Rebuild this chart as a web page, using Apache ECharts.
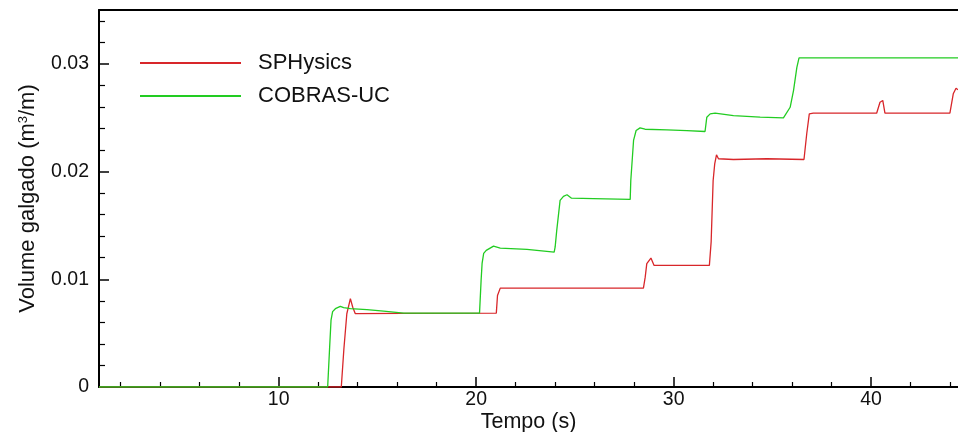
<!DOCTYPE html>
<html><head><meta charset="utf-8">
<script src="https://cdn.jsdelivr.net/npm/echarts@6/dist/echarts.min.js"></script>
<style>html,body{margin:0;padding:0;background:#fff}#c{width:958px;height:432px}</style>
</head><body><div id="c"></div>
<script>
// Data
const seriesNames = ['SPHysics', 'COBRAS-UC'];
const sphysicsX = [0.9, 13.17, 13.3, 13.45, 13.63, 13.75, 13.88, 16.3, 21.02, 21.08, 21.22, 28.47, 28.56, 28.64, 28.85, 29.01, 31.81, 31.9, 32.0, 32.08, 32.17, 32.27, 33.03, 34.72, 36.6, 36.74, 36.87, 37.07, 40.28, 40.45, 40.59, 40.7, 43.99, 44.16, 44.3, 44.4];
const sphysicsY = [0, 0, 0.0035, 0.0068, 0.0082, 0.0074, 0.00681, 0.00683, 0.00686, 0.0085, 0.00918, 0.00918, 0.0102, 0.01145, 0.01197, 0.01129, 0.01129, 0.0135, 0.01917, 0.02072, 0.02156, 0.02119, 0.02112, 0.02119, 0.02112, 0.02351, 0.02536, 0.02542, 0.02542, 0.02644, 0.0266, 0.02542, 0.02542, 0.02722, 0.02774, 0.02759];
const cobrasX = [0.9, 12.48, 12.58, 12.65, 12.73, 12.87, 13.12, 13.29, 13.63, 14.47, 15.31, 16.33, 20.17, 20.25, 20.3, 20.38, 20.51, 20.88, 21.22, 22.57, 23.95, 24.0, 24.08, 24.25, 24.42, 24.6, 24.83, 25.94, 27.8, 27.83, 27.97, 28.1, 28.3, 28.55, 29.66, 30.67, 31.59, 31.68, 31.85, 32.1, 33.03, 34.38, 35.56, 35.9, 36.07, 36.24, 36.35, 44.4];
const cobrasY = [0, 0, 0.0037, 0.0062, 0.0070, 0.00727, 0.00749, 0.00737, 0.00727, 0.00718, 0.00705, 0.00686, 0.00686, 0.0099, 0.01147, 0.01240, 0.01268, 0.01308, 0.0129, 0.01277, 0.01252, 0.01300, 0.01454, 0.01732, 0.01769, 0.01785, 0.01753, 0.01748, 0.01741, 0.01917, 0.02289, 0.02381, 0.02406, 0.02393, 0.02388, 0.02381, 0.02372, 0.02505, 0.02536, 0.02542, 0.0252, 0.02505, 0.02499, 0.02597, 0.02752, 0.02968, 0.03056, 0.03056];
const xMajorTicks = [10, 20, 30, 40];
const xMinorTicks = [2, 4, 6, 8, 12, 14, 16, 18, 22, 24, 26, 28, 32, 34, 36, 38, 42, 44];
const yMajorTicks = [0, 0.01, 0.02, 0.03];
const yMinorTicks = [0.002, 0.004, 0.006, 0.008, 0.012, 0.014, 0.016, 0.018, 0.022, 0.024, 0.026, 0.028, 0.032, 0.034];
const xTitle = 'Tempo (s)';

const FONT = 'Liberation Sans, Arial, sans-serif';
const X_MIN = 0.9, X_MAX = 44.4, Y_MIN = 0, Y_MAX = 0.035;
const zip = (xs, ys) => xs.map((x, i) => [x, ys[i]]);

const chart = echarts.init(document.getElementById('c'));
const lineStyle = { color: '#000', width: 2 };
chart.setOption({
  animation: false,
  grid: { left: 99, right: 0, top: 10, bottom: 45, containLabel: false, outerBoundsMode: 'none' },
  legend: {
    orient: 'vertical', left: 140, top: 52, itemWidth: 101, itemHeight: 2, itemGap: 11,
    icon: 'rect', padding: 0,
    textStyle: { fontFamily: FONT, fontSize: 22, color: '#111', lineHeight: 22, padding: [0, 0, 0, 12] },
    data: seriesNames
  },
  xAxis: [
    { type: 'value', min: X_MIN, max: X_MAX, position: 'bottom',
      axisLine: { show: true, onZero: false, lineStyle },
      axisTick: { show: true, inside: true, length: 10, customValues: xMajorTicks, lineStyle: { color: '#000', width: 1.5 } },
      axisLabel: { show: true, customValues: xMajorTicks, margin: 3, fontFamily: FONT, fontSize: 19.5, color: '#111' },
      splitLine: { show: false },
      name: xTitle, nameLocation: 'middle', nameGap: 24, nameMoveOverlap: false,
      nameTextStyle: { fontFamily: FONT, fontSize: 21.5, color: '#111', verticalAlign: 'top' } },
    { type: 'value', min: X_MIN, max: X_MAX, position: 'bottom',
      axisLine: { show: false },
      axisTick: { show: true, inside: true, length: 5, customValues: xMinorTicks, lineStyle: { color: '#000', width: 1.2 } },
      axisLabel: { show: false }, splitLine: { show: false } },
    { type: 'value', min: X_MIN, max: X_MAX, position: 'top',
      axisLine: { show: true, onZero: false, lineStyle },
      axisTick: { show: false }, axisLabel: { show: false }, splitLine: { show: false } }
  ],
  yAxis: [
    { type: 'value', min: Y_MIN, max: Y_MAX, position: 'left',
      axisLine: { show: true, onZero: false, lineStyle },
      axisTick: { show: true, inside: true, length: 10, customValues: yMajorTicks, lineStyle: { color: '#000', width: 1.5 } },
      axisLabel: { show: true, customValues: yMajorTicks, margin: 10, fontFamily: FONT, fontSize: 19.5, color: '#111',
        formatter: v => v === 0 ? '0' : v.toFixed(2) },
      splitLine: { show: false },
      name: '{a|Volume galgado (m}{s|3}{a|/m)}', nameLocation: 'middle', nameGap: 60,
      nameTextStyle: { fontFamily: FONT, fontSize: 22, color: '#111',
        rich: { a: { fontFamily: FONT, fontSize: 22, color: '#111' },
                s: { fontFamily: FONT, fontSize: 13, color: '#111', verticalAlign: 'top', padding: [0, 0, 9, 0] } } } },
    { type: 'value', min: Y_MIN, max: Y_MAX, position: 'left',
      axisLine: { show: false },
      axisTick: { show: true, inside: true, length: 6, customValues: yMinorTicks, lineStyle: { color: '#000', width: 1.2 } },
      axisLabel: { show: false }, splitLine: { show: false } }
  ],
  series: [
    { name: seriesNames[0], type: 'line', xAxisIndex: 0, yAxisIndex: 0, data: zip(sphysicsX, sphysicsY),
      symbol: 'none', lineStyle: { color: '#d8262a', width: 1.3 }, itemStyle: { color: '#d8262a' } },
    { name: seriesNames[1], type: 'line', xAxisIndex: 0, yAxisIndex: 0, data: zip(cobrasX, cobrasY),
      symbol: 'none', lineStyle: { color: '#22cc22', width: 1.3 }, itemStyle: { color: '#22cc22' } }
  ]
});
</script></body></html>
